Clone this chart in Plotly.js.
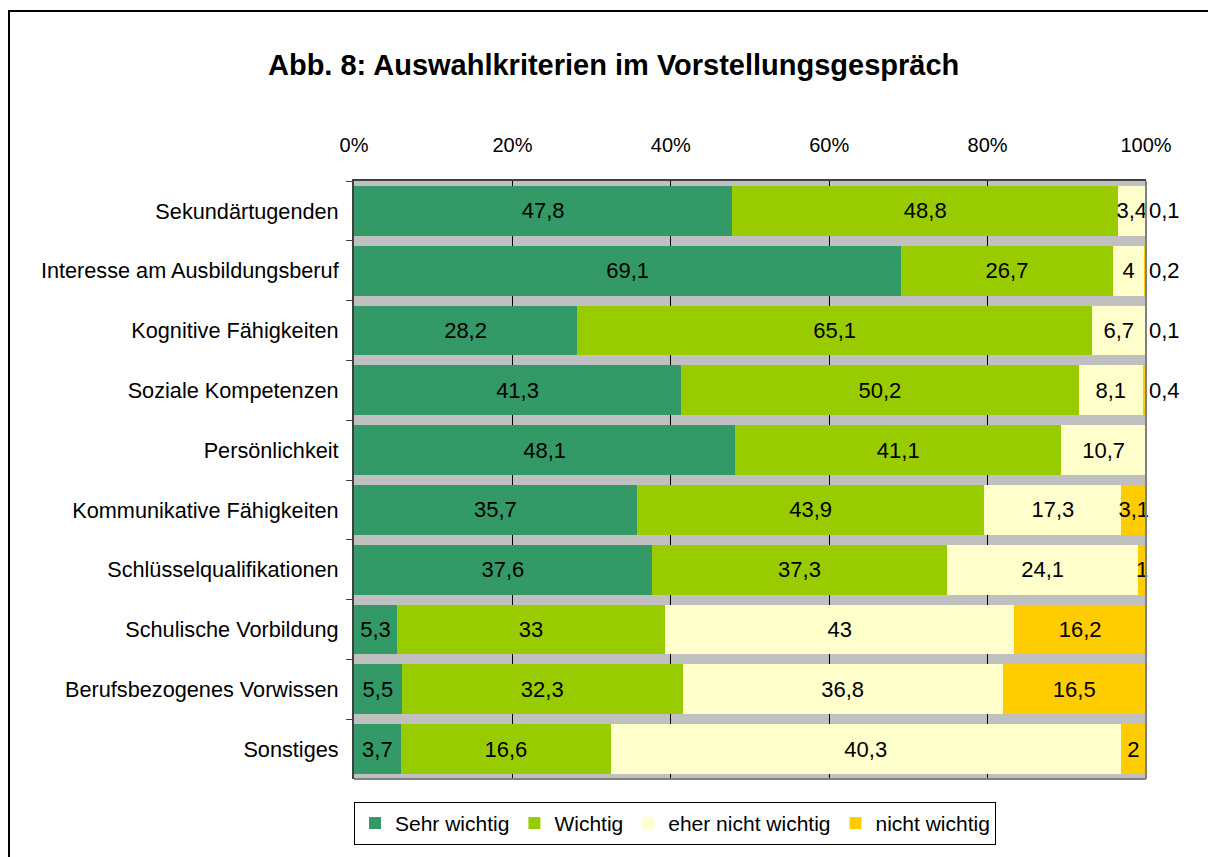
<!DOCTYPE html>
<html>
<head>
<meta charset="utf-8">
<script src="https://cdn.plot.ly/plotly-3.0.1.min.js"></script>
<style>
  html, body { margin: 0; padding: 0; background: #fff; overflow: hidden; }
  #frame { position: absolute; left: 8px; top: 10px; width: 1400px; height: 1000px; border: 2px solid #000; box-sizing: border-box; }
  #chart { position: absolute; left: 0; top: 0; width: 1208px; height: 857px; }
</style>
</head>
<body>
<div id="frame"></div>
<div id="chart"></div>
<script>
const categories = [
  "Sekundärtugenden",
  "Interesse am Ausbildungsberuf",
  "Kognitive Fähigkeiten",
  "Soziale Kompetenzen",
  "Persönlichkeit",
  "Kommunikative Fähigkeiten",
  "Schlüsselqualifikationen",
  "Schulische Vorbildung",
  "Berufsbezogenes Vorwissen",
  "Sonstiges"
];
const seriesNames = ["Sehr wichtig", "Wichtig", "eher nicht wichtig", "nicht wichtig"];
const sehrWichtig     = [47.8, 69.1, 28.2, 41.3, 48.1, 35.7, 37.6, 5.3, 5.5, 3.7];
const wichtig         = [48.8, 26.7, 65.1, 50.2, 41.1, 43.9, 37.3, 33, 32.3, 16.6];
const eherNichtWichtig= [3.4, 4, 6.7, 8.1, 10.7, 17.3, 24.1, 43, 36.8, 40.3];
const nichtWichtig    = [0.1, 0.2, 0.1, 0.4, null, 3.1, 1, 16.2, 16.5, 2];
const tickValues = [0, 20, 40, 60, 80, 100];
const tickLabels = ["0%", "20%", "40%", "60%", "80%", "100%"];
const colors = ["#339966", "#99CC00", "#FFFFCC", "#FFCC00"];

const FONT = "Liberation Sans, Arial, sans-serif";
const fmt = v => (v === null ? "" : String(v).replace(".", ","));

const allSeries = [sehrWichtig, wichtig, eherNichtWichtig, nichtWichtig];
const traces = allSeries.map((vals, i) => {
  const pos = vals.map(v => (i === 3 && v !== null && v < 0.5) ? "outside" : "inside");
  return {
    type: "bar", orientation: "h", name: seriesNames[i],
    y: categories, x: vals, text: vals.map(fmt),
    textposition: pos, textangle: 0, insidetextanchor: "middle",
    constraintext: "none", cliponaxis: false,
    textfont: { family: FONT, size: 22, color: "#000" },
    insidetextfont: { family: FONT, size: 22, color: "#000" },
    outsidetextfont: { family: FONT, size: 22, color: "#000" },
    marker: { color: colors[i], line: { width: 0 } },
    hoverinfo: "skip"
  };
});

const layout = {
  width: 1208, height: 857,
  paper_bgcolor: "rgba(0,0,0,0)", plot_bgcolor: "#C0C0C0",
  margin: { l: 354, r: 62, t: 181, b: 76, pad: 0 },
  barmode: "stack", barnorm: "percent", bargap: 0.167,
  font: { family: FONT, size: 21, color: "#000" },
  title: {
    text: "<b>Abb. 8: Auswahlkriterien im Vorstellungsgespräch</b>",
    font: { family: FONT, size: 29, color: "#000" },
    xref: "container", x: 0.508, xanchor: "center",
    yref: "container", y: 1 - 65 / 857, yanchor: "middle"
  },
  xaxis: {
    side: "top", range: [0, 100.001],
    tickmode: "array", tickvals: tickValues, ticktext: tickLabels,
    showgrid: true, gridcolor: "#000", gridwidth: 1, zeroline: false,
    showline: true, linecolor: "#404040", linewidth: 2, ticks: "",
    ticklabelstandoff: 19,
    tickfont: { family: FONT, size: 20, color: "#000" }, fixedrange: true
  },
  yaxis: {
    autorange: "reversed", type: "category",
    showline: true, linecolor: "#404040", linewidth: 2,
    ticks: "outside", tickson: "boundaries", ticklen: 6, tickcolor: "#404040", tickwidth: 1,
    ticklabelstandoff: 9, showgrid: false, zeroline: false,
    tickfont: { family: FONT, size: 21.7, color: "#000" }, fixedrange: true
  },
  showlegend: true,
  legend: {
    orientation: "h", x: (675 - 354) / 792, xanchor: "center",
    y: -23 / 600, yanchor: "top",
    bgcolor: "#fff", bordercolor: "#000", borderwidth: 1,
    font: { family: FONT, size: 21, color: "#000" },
    itemwidth: 30, traceorder: "normal"
  },
  shapes: [
    { type: "line", xref: "paper", yref: "paper", x0: 1, x1: 1, y0: 0, y1: 1, line: { color: "#808080", width: 2 }, layer: "above" },
    { type: "line", xref: "paper", yref: "paper", x0: 0, x1: 1, y0: 0, y1: 0, line: { color: "#808080", width: 2 }, layer: "above" }
  ]
};

Plotly.newPlot("chart", traces, layout, { staticPlot: true, displayModeBar: false });
</script>
</body>
</html>
